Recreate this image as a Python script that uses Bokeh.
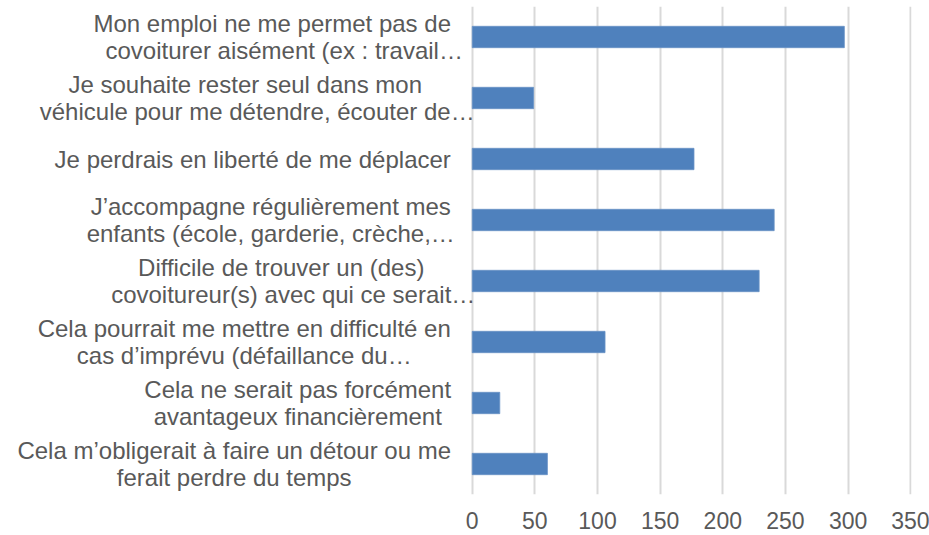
from bokeh.plotting import figure
from bokeh.models import ColumnDataSource, FactorRange, Range1d, FixedTicker
from bokeh.core.properties import value
from bokeh.embed import file_html
from bokeh.resources import INLINE

# ---- data ----
categories = [
    "Mon emploi ne me permet pas de\ncovoiturer aisément (ex : travail…",
    "Je souhaite rester seul dans mon\nvéhicule pour me détendre, écouter de…",
    "Je perdrais en liberté de me déplacer",
    "J’accompagne régulièrement mes\nenfants (école, garderie, crèche,…",
    "Difficile de trouver un (des)\ncovoitureur(s) avec qui ce serait…",
    "Cela pourrait me mettre en difficulté en\ncas d’imprévu (défaillance du…",
    "Cela ne serait pas forcément\navantageux financièrement",
    "Cela m’obligerait à faire un détour ou me\nferait perdre du temps",
]
counts = [297, 49, 177, 241, 229, 106, 22, 60]
x_ticks = [0, 50, 100, 150, 200, 250, 300, 350]

# ---- styles (label block centres, px left of the value axis; ellipsis overflow shift) ----
label_center_dx = [-200, -227, -219.5, -201.5, -191, -228, -174.5, -238]
ellipsis_shift = [12, 12, 0, 0, 12, 0, 0, 0]
LINE_SPACING = 27.5
FONT = "Liberation Sans"
TEXT_COLOR = "#595959"
BAR_COLOR = "#4F81BD"
GRID_COLOR = "#D9D9D9"
LABEL_ROOM = 376.5   # extra room (in value units) left of 0 for the category labels

factors = list(reversed(categories))

p = figure(
    width=929, height=535,
    y_range=FactorRange(factors=factors, range_padding=0),
    x_range=Range1d(-LABEL_ROOM, 350.6),
    output_backend="svg", toolbar_location=None,
    min_border_left=0, min_border_right=18, min_border_top=6, min_border_bottom=41,
)
p.outline_line_color = None
p.background_fill_color = "white"
p.border_fill_color = "white"

bar_src = ColumnDataSource(dict(cat=categories, count=counts))
p.hbar(y="cat", right="count", left=0, height=0.35, source=bar_src,
       fill_color=BAR_COLOR, line_color="#6A93C7", line_width=0.8)

# category labels, lines centred within each block
lx, ly, ltext, xoff, yoff = [], [], [], [], []
for i, cat in enumerate(categories):
    lines = cat.split("\n")
    n = len(lines)
    for j, line in enumerate(lines):
        lx.append(0)
        ly.append(cat)
        ltext.append(line)
        dx = label_center_dx[i] + (ellipsis_shift[i] if line.endswith("…") else 0)
        xoff.append(dx)
        yoff.append((j - (n - 1) / 2) * LINE_SPACING)
lab_src = ColumnDataSource(dict(x=lx, y=ly, text=ltext, xo=xoff, yo=yoff))
p.text(x="x", y="y", text="text", x_offset="xo", y_offset="yo", source=lab_src,
       text_align="center", text_baseline="middle",
       text_font=value(FONT), text_font_size="24px", text_color=TEXT_COLOR)

p.yaxis.visible = False
p.ygrid.grid_line_color = None

p.xgrid.ticker = FixedTicker(ticks=x_ticks)
p.xaxis.ticker = FixedTicker(ticks=x_ticks)
p.xgrid.grid_line_color = GRID_COLOR
p.xgrid.grid_line_width = 2
p.xaxis.axis_line_color = None
p.xaxis.major_tick_line_color = None
p.xaxis.minor_tick_line_color = None
p.xaxis.major_tick_out = 0
p.xaxis.major_tick_in = 0
p.xaxis.major_label_standoff = 17
p.xaxis.major_label_text_font = FONT
p.xaxis.major_label_text_font_size = "23px"
p.xaxis.major_label_text_color = TEXT_COLOR

open("out.html", "w").write(file_html(p, INLINE))
